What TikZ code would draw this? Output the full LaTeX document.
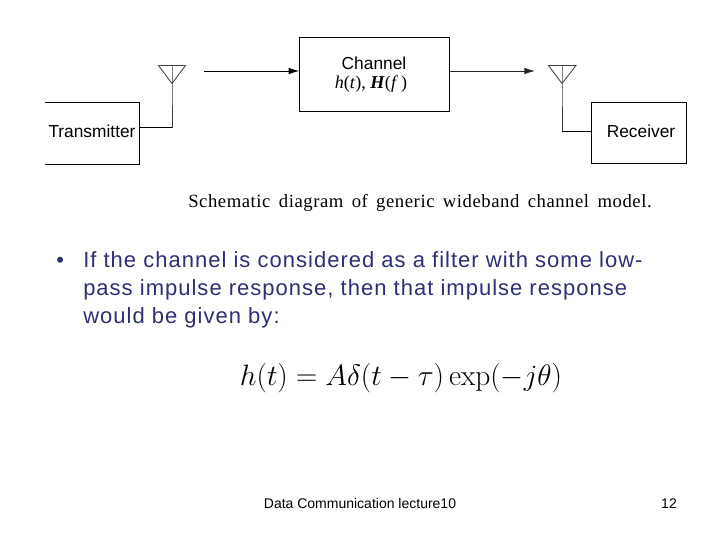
\documentclass[tikz,border=0pt]{standalone}
\usepackage{bm}
\usepackage[no-math]{fontspec}
\setmainfont{Liberation Sans}
\newfontfamily\capfont[LetterSpace=3,WordSpace=1.6]{Liberation Serif}
\newfontfamily\labfont{Liberation Serif}
\newfontfamily\bodyfont[LetterSpace=4.6]{Liberation Sans}
\usetikzlibrary{arrows.meta}
\definecolor{bodyblue}{HTML}{2F2F75}
\begin{document}
\begin{tikzpicture}[x=0.75pt,y=-0.75pt,
  line/.style={draw=black,line width=0.75pt},
  thin line/.style={draw=black!75,line width=0.6pt},
  blockbox/.style={draw=black,line width=0.75pt,minimum width=0pt,inner sep=0pt},
  label/.style={inner sep=0pt,font=\fontsize{13}{15}\selectfont},
  body/.style={inner sep=0pt,anchor=base west,text=bodyblue,font=\bodyfont\fontsize{16.5}{20}\selectfont},
  foot/.style={inner sep=0pt,anchor=base,font=\fontsize{10.5}{12}\selectfont},
  arrow/.style={-{Latex[length=8pt,width=5pt]},line width=0.75pt}]
\useasboundingbox (0,0) rectangle (720,540);
\fill[white] (0,0) rectangle (720,540);
% Transmitter (open on its left side)
\coordinate (txtl) at (45,102.5);
\coordinate (txtr) at (139.5,102.5);
\coordinate (txbr) at (139.5,164);
\coordinate (txbl) at (45,164);
\draw[line] (txtl) -- (txtr) -- (txbr) -- (txbl);
\node[label] (tx) at (92,131.5) {Transmitter};
% Channel
\node[blockbox,minimum width=112pt,minimum height=55.5pt] (ch) at (374.5,74) {};
\node[label] (chl) at (374,63) {Channel};
\node[inner sep=0pt,font=\labfont\fontsize{13.6}{15}\selectfont] (chf) at (371,84) {\textit{h}(\textit{t}), \textbf{\textit{H}}(\textit{f}\,)};
% Receiver
\node[blockbox,minimum width=71.5pt,minimum height=46pt] (rx) at (639,133) {};
\node[label] (rxl) at (641,131.5) {Receiver};
% Antennas
\coordinate (a1l) at (158.5,65.5);
\coordinate (a1r) at (185.5,65.5);
\coordinate (a1t) at (172,83.5);
\coordinate (a1b) at (172,127.5);
\draw[thin line] (a1l) -- (a1r) -- (a1t) -- cycle;
\draw[thin line] (172,65.5) -- (a1t) -- (a1b);
\draw[line] (a1b) -- (txtr |- a1b);
\coordinate (a2l) at (548.5,65.5);
\coordinate (a2r) at (576,65.5);
\coordinate (a2t) at (562,83.5);
\coordinate (a2b) at (562,131);
\draw[thin line] (a2l) -- (a2r) -- (a2t) -- cycle;
\draw[thin line] (562,65.5) -- (a2t) -- (a2b);
\draw[line] (a2b) -- (rx.west |- a2b);
% Arrows
\coordinate (ar1) at (204,71);
\coordinate (ar2) at (535,71);
\draw[arrow] (ar1) -- (ch.west |- ar1);
\draw[arrow,draw=black!85] (ch.east |- ar2) -- (ar2);
% Caption
\node[inner sep=0pt,anchor=base west,font=\capfont\fontsize{14}{17}\selectfont] (cap) at (188,207) {Schematic diagram of generic wideband channel model.};
% Body
\node[body] (bul) at (56,267) {•};
\node[body] (l1) at (83,267) {If the channel is considered as a filter with some low-};
\node[body] (l2) at (83,295) {pass impulse response, then that impulse response};
\node[body] (l3) at (83,323) {would be given by:};
% Equation
\node[inner sep=0pt,scale=1.066,font=\fontsize{20.74}{25}\selectfont] (eq) at (401,378) {$h(t)=A\delta(t-\tau)\exp(-j\theta)$};
% Footer
\node[foot] (ft) at (360,508) {Data Communication lecture10};
\node[foot] (pg) at (669,508) {12};
\end{tikzpicture}
\end{document}
